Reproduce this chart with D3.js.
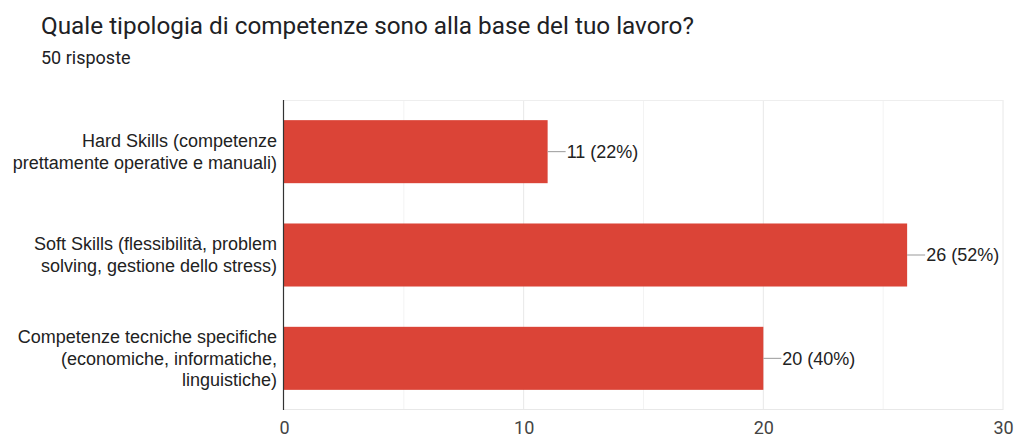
<!DOCTYPE html>
<html>
<head>
<meta charset="utf-8">
<script src="https://cdn.jsdelivr.net/npm/d3@7"></script>
<style>
  html, body { margin: 0; padding: 0; background: #fff; }
  svg { display: block; }
</style>
</head>
<body>
<svg id="chart" width="1016" height="439"></svg>
<script>
// Survey answers
const title = "Quale tipologia di competenze sono alla base del tuo lavoro?";
const subtitle = "50 risposte";
const categories = [
  ["Hard Skills (competenze", "prettamente operative e manuali)"],
  ["Soft Skills (flessibilità, problem", "solving, gestione dello stress)"],
  ["Competenze tecniche specifiche", "(economiche, informatiche,", "linguistiche)"]
];
const counts = [11, 26, 20];
const percents = [22, 52, 40];
const majorTicks = [0, 10, 20, 30];
const minorTicks = [5, 15, 25];

const svg = d3.select("#chart");
const margin = { left: 284, right: 13, top: 100, bottom: 29 };
const W = 1016, H = 439;

const x = d3.scaleLinear().domain([0, 30]).range([margin.left, W - margin.right]);
const y = d3.scaleBand().domain(d3.range(categories.length))
  .range([margin.top, H - margin.bottom]).paddingInner(0.39).paddingOuter(0.195);

// heading
svg.append("text").attr("x", 41).attr("y", 34)
  .attr("font-family", "Roboto").attr("font-size", 24.3).attr("fill", "#202124")
  .text(title);
svg.append("text").attr("x", 41).attr("y", 64)
  .attr("font-family", "Roboto").attr("font-size", 18).attr("fill", "#202124")
  .text(subtitle);

// grid
const grid = svg.append("g");
grid.selectAll("line.minor").data(minorTicks).join("line")
  .attr("x1", d => x(d)).attr("x2", d => x(d))
  .attr("y1", margin.top).attr("y2", H - margin.bottom)
  .attr("stroke", "#f3f3f3").attr("stroke-width", 1);
grid.selectAll("line.major").data(majorTicks.slice(1)).join("line")
  .attr("x1", d => x(d)).attr("x2", d => x(d))
  .attr("y1", margin.top).attr("y2", H - margin.bottom)
  .attr("stroke", "#e8e8e8").attr("stroke-width", 1);
grid.append("line").attr("x1", x(0)).attr("x2", x(30))
  .attr("y1", margin.top + 0.5).attr("y2", margin.top + 0.5)
  .attr("stroke", "#eeeeee");
grid.append("line").attr("x1", x(0)).attr("x2", x(30))
  .attr("y1", H - margin.bottom - 0.5).attr("y2", H - margin.bottom - 0.5)
  .attr("stroke", "#e8e8e8");

// bars
svg.selectAll("rect.bar").data(counts).join("rect")
  .attr("class", "bar")
  .attr("x", x(0)).attr("y", (d, i) => y(i))
  .attr("width", d => x(d) - x(0)).attr("height", y.bandwidth())
  .attr("fill", "#db4437");

// baseline
svg.append("line").attr("x1", x(0) - 0.5).attr("x2", x(0) - 0.5)
  .attr("y1", margin.top).attr("y2", H - margin.bottom)
  .attr("stroke", "#333").attr("stroke-width", 1.2);

// value labels with leaders
const lab = svg.selectAll("g.val").data(counts).join("g").attr("class", "val");
lab.append("line")
  .attr("x1", d => x(d)).attr("x2", d => x(d) + 18)
  .attr("y1", (d, i) => y(i) + y.bandwidth() / 2)
  .attr("y2", (d, i) => y(i) + y.bandwidth() / 2)
  .attr("stroke", "#999").attr("stroke-width", 1);
lab.append("text")
  .attr("x", d => x(d) + 19)
  .attr("y", (d, i) => y(i) + y.bandwidth() / 2)
  .attr("dy", "0.35em")
  .attr("font-family", "Liberation Sans, Arial").attr("font-size", 18).attr("fill", "#222")
  .text((d, i) => `${d} (${percents[i]}%)`);

// category labels
svg.selectAll("text.cat").data(categories).join("text")
  .attr("class", "cat")
  .attr("text-anchor", "end")
  .attr("font-family", "Liberation Sans, Arial").attr("font-size", 18).attr("fill", "#222")
  .each(function (lines, i) {
    const cy = y(i) + y.bandwidth() / 2;
    const lh = 21.7;
    const t0 = cy - (lines.length - 1) * lh / 2;
    d3.select(this).selectAll("tspan").data(lines).join("tspan")
      .attr("x", 277).attr("y", (l, k) => t0 + k * lh).attr("dy", "0.35em")
      .text(l => l);
  });

// x axis labels
const xAxis = svg.append("g").attr("transform", `translate(0,${H - margin.bottom})`)
  .call(d3.axisBottom(x).tickValues(majorTicks).tickSize(0).tickPadding(11));
xAxis.select(".domain").remove();
xAxis.selectAll("text").attr("font-family", "Roboto").attr("font-size", 18).attr("fill", "#444");
</script>
</body>
</html>
